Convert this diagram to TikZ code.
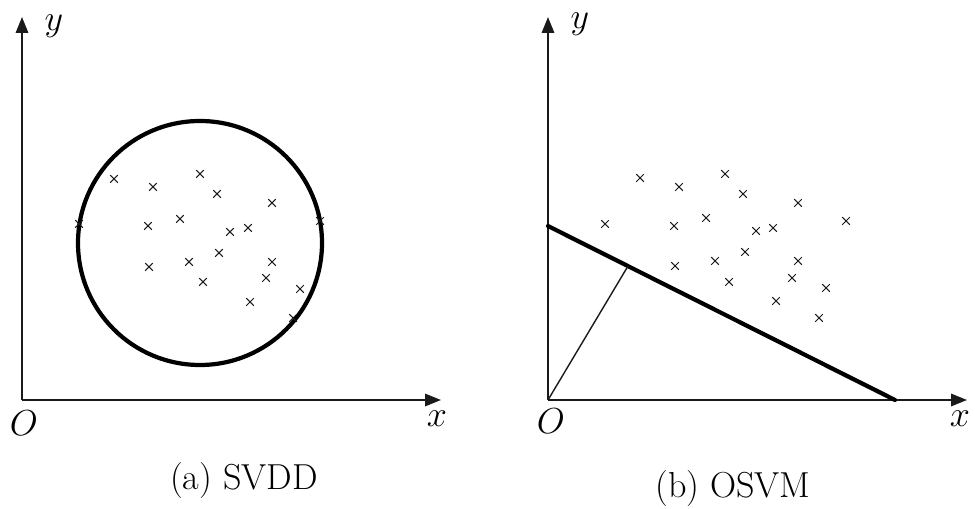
\documentclass[tikz,border=0pt]{standalone}
\usepackage{amsmath, amssymb}
\usepackage{tikz}
\usetikzlibrary{arrows.meta, positioning, calc}
\usepackage{xcolor}
\definecolor{inkgray}{HTML}{1A1A1A}

\tikzset{
  axis/.style={inkgray, line width=1.1pt, -{Triangle[length=9pt, width=7pt]}},
  boundary/.style={black, line width=2.4pt},
  sample/.pic={\draw[inkgray, line width=0.6pt] (-3.8,-3.8) -- (3.8,3.8) (-3.8,3.8) -- (3.8,-3.8);},
  lbl/.style={inner sep=0pt, scale=1.19, transform shape, font=\fontsize{17.28}{20}\selectfont}
}

\begin{document}
\begin{tikzpicture}[x=0.02cm, y=-0.02cm]
                \useasboundingbox (0,0) rectangle (975,509);
                % (a) SVDD
                \coordinate (Oa) at (22,400);
                \coordinate (xa) at (441,400);
                \coordinate (ya) at (22,17);
                \draw[axis] (Oa) -- (xa);
                \draw[axis] (Oa) -- (ya);
                \node[lbl] (labOa) at (24,423) {$O$};
                \node[lbl] (labxa) at (437,419) {$x$};
                \node[lbl] (labya) at (54,26) {$y$};
                \draw[boundary] (200,243) circle (122);
                \foreach \px/\py in {114/179, 153/187, 200/174, 217/194, 272/203, 79/224, 148/226, 180/219, 230/232, 248/228,
                                     320/221, 219/253, 149/267, 189/262, 203/282, 272/262, 266/278, 300/289, 250/302, 293/318}
                  \pic at (\px,\py) {sample};
                \node[lbl] (capa) at (244,480) {(a) SVDD};

                % (b) OSVM
                \coordinate (Ob) at (548,400);
                \coordinate (xb) at (967,400);
                \coordinate (yb) at (548,17);
                \draw[axis] (Ob) -- (xb);
                \draw[axis] (Ob) -- (yb);
                \node[lbl] (labOb) at (551,421) {$O$};
                \node[lbl] (labxb) at (960,419) {$x$};
                \node[lbl] (labyb) at (580,24) {$y$};
                \coordinate (hA) at (548,226);
                \coordinate (hB) at (895,400);
                \draw[boundary, line cap=round] (hA) -- (hB);
                \coordinate (foot) at ($(hA)!0.2305!(hB)$);
                \draw[inkgray, line width=0.8pt] (Ob) -- (foot);
                \foreach \px/\py in {640/178, 679/187, 725/174, 743/194, 798/203, 605/224, 674/226, 706/218, 756/231, 773/228,
                                     846/221, 745/252, 675/266, 715/261, 729/282, 798/261, 792/278, 826/288, 776/301, 819/318}
                  \pic at (\px,\py) {sample};
                \node[lbl] (capb) at (733,488) {(b) OSVM};
            \end{tikzpicture}
\end{document}
